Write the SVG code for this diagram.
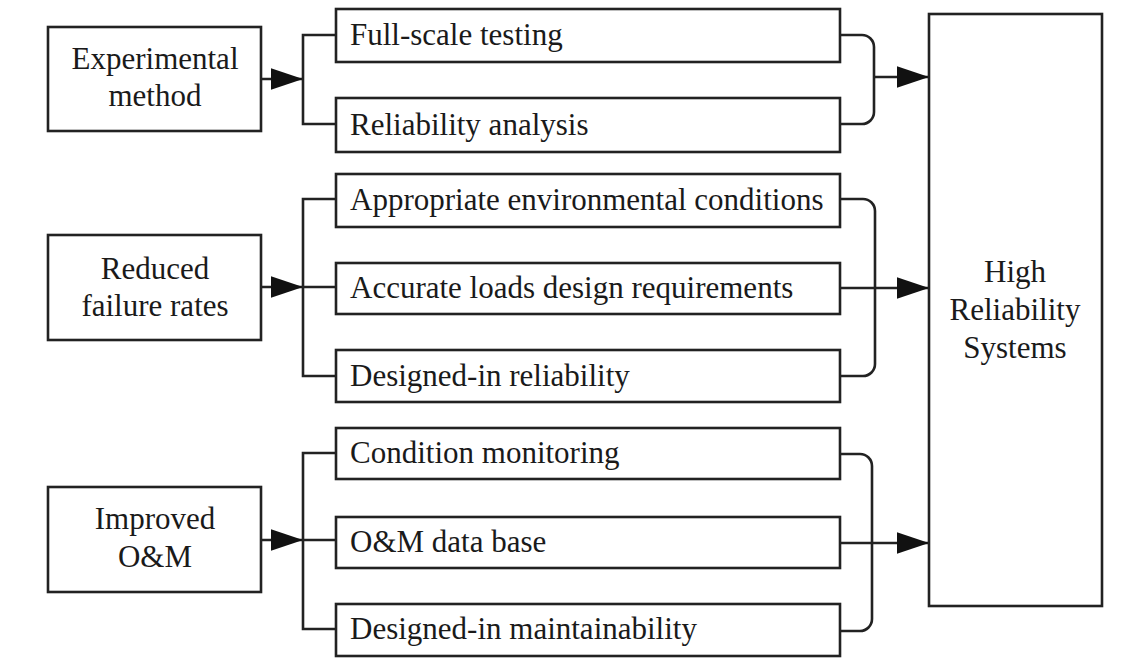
<svg xmlns="http://www.w3.org/2000/svg" width="1135" height="659" viewBox="0 0 1135 659">
<style>
.box{fill:#fff;stroke:#222;stroke-width:2.6}
.ln{fill:none;stroke:#222;stroke-width:2.6}
.t{font-family:"Liberation Serif","Times New Roman",serif;font-size:31px;fill:#1a1a1a}
.c{text-anchor:middle}
</style>
<defs>
<marker id="ah" markerUnits="userSpaceOnUse" markerWidth="32" markerHeight="22" viewBox="0 0 30 20" refX="30" refY="10" orient="auto">
<path d="M0,0 L30,10 L0,20 Z" fill="#111"/>
</marker>
</defs>
<rect width="1135" height="659" fill="#fff"/>
<g id="connectors">
<line class="ln" x1="261" y1="79" x2="303" y2="79" marker-end="url(#ah)"/>
<line class="ln" x1="261" y1="287" x2="303" y2="287" marker-end="url(#ah)"/>
<line class="ln" x1="261" y1="540" x2="303" y2="540" marker-end="url(#ah)"/>
<path class="ln" d="M336,35 H303 V124 H336"/>
<path class="ln" d="M336,199 H303 V376 H336 M303,287 H336"/>
<path class="ln" d="M336,453 H303 V629 H336 M303,540 H336"/>
<path class="ln" d="M840,35 H862 A12,12 0 0 1 874,47 V112 A12,12 0 0 1 862,124 H840"/>
<path class="ln" d="M840,199 H863 A12,12 0 0 1 875,211 V364 A12,12 0 0 1 863,376 H840"/>
<path class="ln" d="M840,454 H860 A12,12 0 0 1 872,466 V619 A12,12 0 0 1 860,631 H840"/>
<line class="ln" x1="874" y1="77" x2="929" y2="77" marker-end="url(#ah)"/>
<line class="ln" x1="840" y1="288" x2="929" y2="288" marker-end="url(#ah)"/>
<line class="ln" x1="840" y1="543" x2="929" y2="543" marker-end="url(#ah)"/>
</g>
<g id="experimental">
<rect class="box" x="48" y="27" width="213" height="104"/>
<text class="t c" x="155" y="69">Experimental</text>
<text class="t c" x="155" y="106">method</text>
</g>
<g id="reduced">
<rect class="box" x="48" y="235" width="213" height="105"/>
<text class="t c" x="155" y="279">Reduced</text>
<text class="t c" x="155" y="316">failure rates</text>
</g>
<g id="improved">
<rect class="box" x="48" y="487" width="213" height="105"/>
<text class="t c" x="155" y="529">Improved</text>
<text class="t c" x="155" y="567">O&amp;M</text>
</g>
<g id="fullscale">
<rect class="box" x="336" y="9" width="504" height="53"/>
<text class="t" x="350" y="45">Full-scale testing</text>
</g>
<g id="relanalysis">
<rect class="box" x="336" y="98" width="504" height="54"/>
<text class="t" x="350" y="135">Reliability analysis</text>
</g>
<g id="environmental">
<rect class="box" x="336" y="174" width="504" height="53"/>
<text class="t" x="350" y="210">Appropriate environmental conditions</text>
</g>
<g id="loads">
<rect class="box" x="336" y="263" width="504" height="51"/>
<text class="t" x="350" y="298">Accurate loads design requirements</text>
</g>
<g id="designedrel">
<rect class="box" x="336" y="350" width="504" height="52"/>
<text class="t" x="350" y="386">Designed-in reliability</text>
</g>
<g id="condition">
<rect class="box" x="336" y="428" width="504" height="51"/>
<text class="t" x="350" y="463">Condition monitoring</text>
</g>
<g id="omdb">
<rect class="box" x="336" y="517" width="504" height="51"/>
<text class="t" x="350" y="552">O&amp;M data base</text>
</g>
<g id="designedmaint">
<rect class="box" x="336" y="604" width="504" height="52"/>
<text class="t" x="350" y="639">Designed-in maintainability</text>
</g>
<g id="hrs">
<rect class="box" x="929" y="14" width="173" height="592"/>
<text class="t c" x="1015" y="282">High</text>
<text class="t c" x="1015" y="320">Reliability</text>
<text class="t c" x="1015" y="358">Systems</text>
</g>
</svg>
